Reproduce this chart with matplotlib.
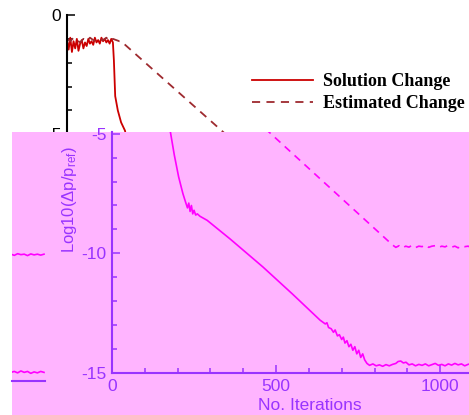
import matplotlib.pyplot as plt
from matplotlib.patches import Rectangle
from matplotlib.ticker import MultipleLocator

plt.rcParams['font.family'] = 'Liberation Sans'
plt.rcParams['mathtext.fontset'] = 'custom'
plt.rcParams['mathtext.rm'] = 'Liberation Sans'
plt.rcParams['mathtext.it'] = 'Liberation Sans:italic'
plt.rcParams['axes.unicode_minus'] = False

# solution change, log10 of the pressure residual
sol_it = [0, 5, 10, 15, 20, 25, 30, 35, 40, 45, 50, 55, 60, 65, 70, 75, 80, 85, 90, 95,
          100, 105, 110, 115, 120, 125, 130, 135, 140,
          143, 147, 155, 165, 177, 190, 203, 216, 224, 230, 234, 238, 242, 246, 250, 255,
          260, 268, 290, 360, 460, 550, 634,
          640, 650, 655, 660, 668, 675, 680, 687, 693, 700, 705, 710, 716, 722, 728, 734,
          740, 746, 752, 758, 764, 770, 777,
          785, 795, 805, 815, 825, 835, 845, 855, 865, 872, 880, 888, 896, 905, 915, 925,
          935, 945, 955, 965, 975, 985, 995, 1005, 1015, 1025, 1035, 1045, 1055, 1065,
          1075, 1085, 1095, 1105, 1115, 1125, 1135, 1145, 1155, 1165, 1175, 1185]
sol_val = [-1.05, -1.45, -0.95, -1.55, -1.1, -1.4, -1.0, -1.5, -1.2, -1.05, -1.4, -1.15,
           -1.3, -1.0, -1.2, -1.1, -1.25, -0.95, -1.15, -1.05, -1.2, -0.95, -1.1, -1.0,
           -1.15, -1.05, -1.2, -1.0, -1.15,
           -1.9, -3.4, -4.0, -4.5, -4.85, -5.9, -6.8, -7.5, -7.85, -8.1, -7.9, -8.25, -8.0,
           -8.35, -8.2, -8.4, -8.35, -8.45, -8.62, -9.4, -10.57, -11.7, -12.79,
           -12.85, -12.95, -12.9, -13.1, -13.15, -13.3, -13.2, -13.45, -13.4, -13.6, -13.5,
           -13.75, -13.65, -13.9, -13.8, -14.05, -13.9, -14.2, -14.05, -14.35, -14.2,
           -14.45, -14.6,
           -14.68, -14.62, -14.7, -14.66, -14.72, -14.65, -14.7, -14.64, -14.6, -14.52,
           -14.5, -14.58, -14.55, -14.66, -14.62, -14.7, -14.64, -14.68, -14.62, -14.7,
           -14.65, -14.6, -14.68, -14.64, -14.7, -14.62, -14.67, -14.6, -14.66, -14.62,
           -14.7, -14.64, -14.6, -14.66, -14.58, -14.64, -14.6, -14.68, -14.62, -14.66,
           -14.6, -14.64]

# estimated change
est_it = [0, 10, 20, 30, 40, 50, 60, 70, 80, 90, 100, 110, 120, 130, 140, 150, 160,
          165, 472, 855,
          865, 875, 885, 895, 905, 915, 925, 935, 945, 955, 965, 975, 985, 995, 1005,
          1015, 1025, 1035, 1045, 1055, 1065, 1075, 1085, 1095, 1105, 1115, 1125, 1135,
          1145, 1155, 1165, 1175, 1185]
est_val = [-1.0, -1.1, -0.95, -1.05, -1.15, -1.0, -1.1, -0.95, -1.05, -1.1, -1.0, -1.05,
           -0.95, -1.1, -1.0, -1.05, -1.1,
           -1.1, -4.85, -9.65,
           -9.75, -9.68, -9.78, -9.7, -9.74, -9.66, -9.76, -9.7, -9.72, -9.65, -9.75,
           -9.7, -9.68, -9.76, -9.7, -9.73, -9.66, -9.74, -9.7, -9.77, -9.68, -9.72,
           -9.7, -9.75, -9.68, -9.72, -9.7, -9.76, -9.69, -9.73, -9.7, -9.74, -9.7]

labels = ['Solution Change', 'Estimated Change']
yticks = [0, -5, -10, -15]
xticks = [0, 500, 1000]

W, H = 469, 415
def box(x0, y0, x1, y1):
    return [x0 / W, 1 - y1 / H, (x1 - x0) / W, (y1 - y0) / H]

pink = '#ffb4ff'
purple = '#9933ff'
mag = '#ff00ff'

fig = plt.figure(figsize=(W / 100, H / 100), dpi=100)

def style(ax, color):
    ax.set_facecolor('none')
    ax.spines['top'].set_visible(False)
    ax.spines['right'].set_visible(False)
    for s in ('left', 'bottom'):
        ax.spines[s].set_color(color)
        ax.spines[s].set_linewidth(1.5)
    ax.set_yticks(yticks)
    ax.set_xticks(xticks)
    ax.yaxis.set_minor_locator(MultipleLocator(1))
    ax.xaxis.set_minor_locator(MultipleLocator(100))
    ax.tick_params(which='both', direction='in', color=color, labelcolor=color,
                   labelsize=12.5, width=1.1)
    ax.tick_params(which='major', length=6, pad=4)
    ax.tick_params(which='minor', length=3.5)

# original plot
ax1 = fig.add_axes(box(67, 15, 469, 373))
ax1.set_zorder(0)
l1, = ax1.plot(sol_it, sol_val, color='#cc0000', lw=1.3)
l2, = ax1.plot(est_it, est_val, color='#9e2a2f', lw=1.3, dashes=(4.5, 3.5))
style(ax1, 'black')
ax1.set_xlim(0, 1226)
ax1.set_ylim(-15, 0)

fig.add_artist(Rectangle((12 / W, 0), 1, 1 - 132 / H, transform=fig.transFigure,
                         facecolor=pink, edgecolor='none', zorder=1))

# recoloured copy
ax2 = fig.add_axes(box(112, 132, 469, 373))
ax2.set_zorder(2)
ax2.plot(sol_it, sol_val, color=mag, lw=1.2)
ax2.plot(est_it, est_val, color=mag, lw=1.2, dashes=(4.5, 3.5))
style(ax2, purple)
ax2.set_xlim(0, 1088)
ax2.set_ylim(-15, -15 + (373 - 132) / 23.93)
ax2.set_xlabel('No. Iterations', color=purple, fontsize=12.5)
ax2.xaxis.set_label_coords(0.555, -0.103)
ax2.set_ylabel(r'Log10($\Delta$p/p$_{\rm ref}$)', color=purple, fontsize=12)
ax2.yaxis.set_label_coords(-0.092, 0.72)

# wrapped tail of the copy
ax3 = fig.add_axes(box(12, 132, 45, 381))
ax3.set_zorder(2)
ax3.plot(sol_it, sol_val, color=mag, lw=1.2)
ax3.plot(est_it, est_val, color=mag, lw=1.2)
ax3.set_facecolor('none')
for s in ('top', 'right', 'left'):
    ax3.spines[s].set_visible(False)
ax3.spines['bottom'].set_color(purple)
ax3.spines['bottom'].set_linewidth(1.5)
ax3.set_xticks([])
ax3.set_yticks([])
ax3.set_xlim(1088, 1188)
ax3.set_ylim(-15, -15 + (381 - 132) / 23.93)

fig.legend([l1, l2], labels, loc='upper left', bbox_to_anchor=(252 / W, 1 - 73 / H),
           frameon=False, borderpad=0, borderaxespad=0, handlelength=3.4,
           handletextpad=0.55, labelspacing=0.3,
           prop={'family': 'Liberation Serif', 'weight': 'bold', 'size': 13})

fig.savefig('out.png', dpi=100)
